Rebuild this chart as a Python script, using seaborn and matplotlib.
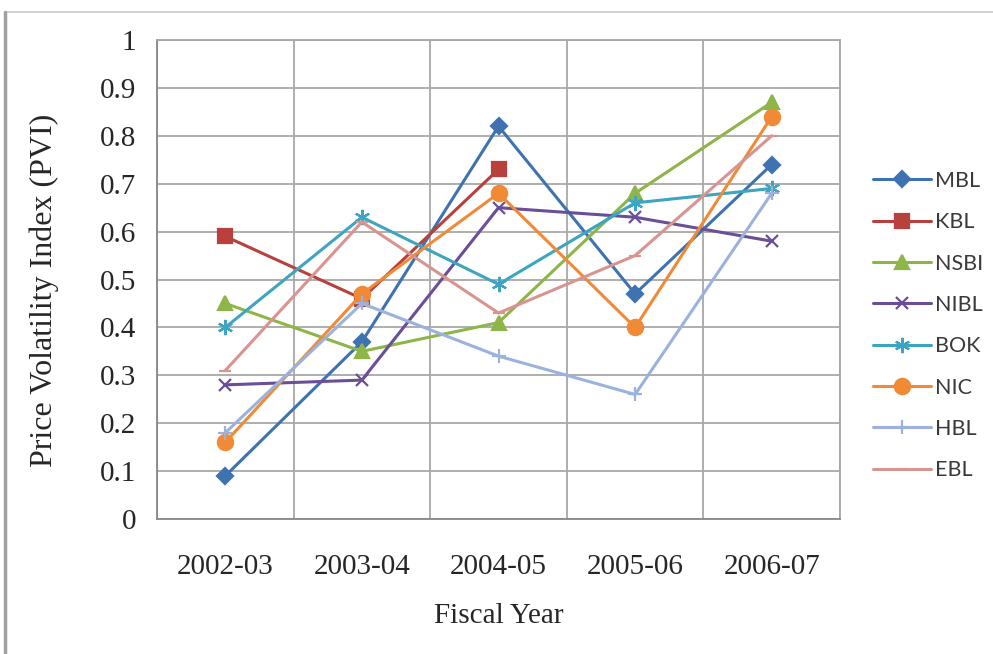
import numpy as np
import pandas as pd
import seaborn as sns
import matplotlib
matplotlib.use("Agg")
import matplotlib.pyplot as plt
from matplotlib.lines import Line2D

# Fiscal years on the x axis
years = ["2002-03", "2003-04", "2004-05", "2005-06", "2006-07"]

# Price volatility index per bank
mbl = [0.09, 0.37, 0.82, 0.47, 0.74]
kbl = [0.59, 0.46, 0.73, np.nan, np.nan]
nsbi = [0.45, 0.35, 0.41, 0.68, 0.87]
nibl = [0.28, 0.29, 0.65, 0.63, 0.58]
bok = [0.40, 0.63, 0.49, 0.66, 0.69]
nic = [0.16, 0.47, 0.68, 0.40, 0.84]
hbl = [0.18, 0.45, 0.34, 0.26, 0.68]
ebl = [0.31, 0.62, 0.43, 0.55, 0.80]

banks = ["MBL", "KBL", "NSBI", "NIBL", "BOK", "NIC", "HBL", "EBL"]
series = [mbl, kbl, nsbi, nibl, bok, nic, hbl, ebl]

y_ticks = [0, 0.1, 0.2, 0.3, 0.4, 0.5, 0.6, 0.7, 0.8, 0.9, 1]
y_tick_labels = ["0", "0.1", "0.2", "0.3", "0.4", "0.5", "0.6", "0.7", "0.8", "0.9", "1"]

styles = {
    "MBL": dict(color="#3F72B0", marker="D", markersize=8),
    "KBL": dict(color="#B8403D", marker="s", markersize=10),
    "NSBI": dict(color="#8DB548", marker="^", markersize=10),
    "NIBL": dict(color="#6A4E98", marker="x", markersize=8),
    "BOK": dict(color="#3EA5C0", marker=(6, 2, 0), markersize=11),
    "NIC": dict(color="#F08A36", marker="o", markersize=11),
    "HBL": dict(color="#9BB2DE", marker="+", markersize=10),
    "EBL": dict(color="#D9948F", marker="_", markersize=8),
}

sns.set_style("white")
serif = ["Liberation Serif", "DejaVu Serif"]
text_color = "#262626"

fig = plt.figure(figsize=(9.93, 6.54), dpi=100)
ax = fig.add_axes([157 / 993, 1 - 519 / 654, (840 - 157) / 993, (519 - 40) / 654])

x = np.arange(len(years))
df = pd.DataFrame({name: vals for name, vals in zip(banks, series)})
df["pos"] = x

for name in banks:
    st = styles[name]
    sns.lineplot(data=df, x="pos", y=name, ax=ax, color=st["color"],
                 marker=st["marker"], markersize=st["markersize"],
                 markeredgecolor=st["color"], markerfacecolor=st["color"],
                 markeredgewidth=1.6, linewidth=2.2, label=name)

ax.set_xlim(-0.5, len(years) - 0.5)
ax.set_ylim(0, 1)

# Grid: horizontal at each tick, vertical between categories
grid_color = "#A8A8A8"
ax.set_yticks(y_ticks)
ax.set_yticklabels(y_tick_labels, fontfamily=serif, fontsize=21, color=text_color)
ax.set_xticks(x)
ax.set_xticklabels(years, fontfamily=serif, fontsize=21, color=text_color)
ax.set_xticks(np.arange(len(years) + 1) - 0.5, minor=True)
ax.tick_params(axis="x", which="major", length=0, pad=25)
ax.tick_params(axis="x", which="minor", length=6, color="#888888", width=1)
ax.tick_params(axis="y", which="major", length=6, color="#888888", width=1, pad=9)
ax.yaxis.grid(True, color=grid_color, linewidth=1.3)
ax.xaxis.grid(True, which="minor", color=grid_color, linewidth=1.3)
ax.xaxis.grid(False, which="major")
ax.set_axisbelow(True)
for side in ["top", "right"]:
    ax.spines[side].set_color(grid_color)
    ax.spines[side].set_linewidth(1.3)
for side in ["left", "bottom"]:
    ax.spines[side].set_color("#888888")
    ax.spines[side].set_linewidth(1.3)

ax.set_xlabel("Fiscal Year", fontfamily=serif, fontsize=21, color=text_color)
ax.set_ylabel("Price Volatility Index (PVI)", fontfamily=serif, fontsize=23,
              color=text_color)
ax.xaxis.set_label_coords(0.5, -0.175)
ax.yaxis.set_label_coords(-0.143, 0.478)

handles, labels = ax.get_legend_handles_labels()
ax.legend(handles, labels, loc="upper left", bbox_to_anchor=(873 / 993, 1 - 171 / 654),
          bbox_transform=fig.transFigure, frameon=False, handlelength=2.7,
          handletextpad=0.2, labelspacing=0.99, borderaxespad=0, borderpad=0,
          prop={"family": ["Lato", "DejaVu Sans"], "size": 15.5}, labelcolor="#3a3a3a")

# Outer frame lines
fig.add_artist(Line2D([5 / 993, 1], [1 - 12 / 654, 1 - 12 / 654], transform=fig.transFigure,
                      color="#C8C8C8", linewidth=1.2))
fig.add_artist(Line2D([5 / 993, 5 / 993], [0, 1 - 12 / 654], transform=fig.transFigure,
                      color="#A0A0A0", linewidth=2.5))

fig.savefig("out.png", dpi=100, facecolor="white")
